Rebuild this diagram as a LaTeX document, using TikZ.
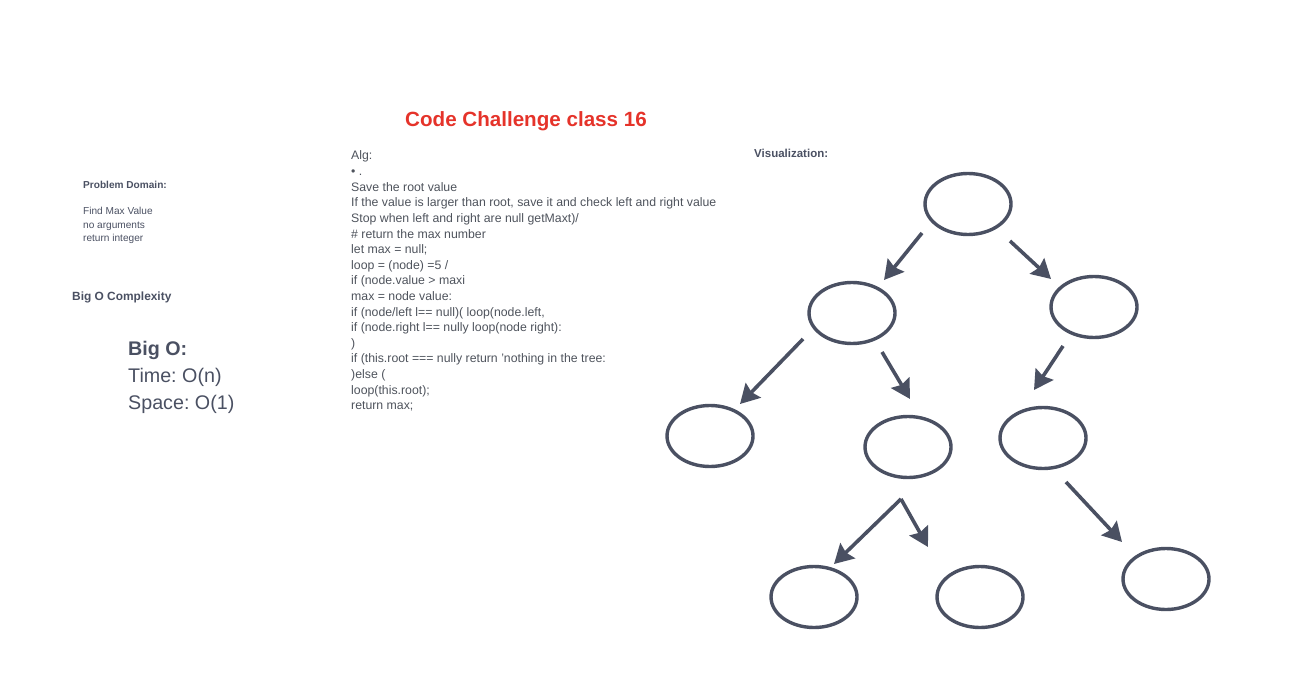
\documentclass[tikz,border=0pt]{standalone}
\usepackage{fontspec}
\setmainfont{Liberation Sans}
\usetikzlibrary{shapes.geometric,arrows.meta}
\definecolor{slate}{HTML}{4A5062}
\definecolor{codegray}{HTML}{4E535C}
\definecolor{titlered}{HTML}{E5332A}
\frenchspacing
\tikzset{
  tnode/.style={ellipse,draw=slate,line width=3.4pt,minimum width=86pt,minimum height=61pt,inner sep=0pt},
  tarrow/.style={draw=slate,line width=3.6pt,-{Stealth[length=19pt,width=21pt,inset=2.5pt]}},
  codeline/.style={anchor=base west,inner sep=0pt,text=codegray,font=\fontsize{12.3}{14}\selectfont},
  smalltxt/.style={anchor=base west,inner sep=0pt,text=slate,font=\fontsize{10.1}{12}\selectfont},
  smallbold/.style={anchor=base west,inner sep=0pt,text=slate,font=\bfseries\fontsize{10.1}{12}\selectfont},
  bigtxt/.style={anchor=base west,inner sep=0pt,text=slate,font=\fontsize{19.7}{22}\selectfont}
}
\begin{document}
\begin{tikzpicture}[x=1pt,y=-1pt]
\useasboundingbox (0,0) rectangle (1305,687);
% title
\node[anchor=base,inner sep=0pt,text=titlered,font=\bfseries\fontsize{20.6}{24}\selectfont] (title) at (526,127) {Code Challenge class 16};
% left column
\node[smallbold] (pd) at (83,188) {Problem Domain:};
\node[smalltxt] (pd1) at (83,214.5) {Find Max Value};
\node[smalltxt] (pd2) at (83,228) {no arguments};
\node[smalltxt] (pd3) at (83,241.5) {return integer};
\node[anchor=base west,inner sep=0pt,text=slate,font=\bfseries\fontsize{11.9}{14}\selectfont] (boc) at (72,300) {Big O Complexity};
\node[bigtxt,font=\bfseries\fontsize{19.7}{22}\selectfont] (bo) at (128,355) {Big O:};
\node[bigtxt] (bot) at (128,382) {Time: O(n)};
\node[bigtxt] (bos) at (128,409) {Space: O(1)};
% code
\node[codeline] (c1) at (351,160) {Alg:};
\node[codeline] (c2) at (351,175.6) {• .};
\node[codeline] (c3) at (351,191.2) {Save the root value};
\node[codeline] (c4) at (351,206.8) {If the value is larger than root, save it and check left and right value};
\node[codeline] (c5) at (351,222.4) {Stop when left and right are null getMaxt)/};
\node[codeline] (c6) at (351,238) {\# return the max number};
\node[codeline] (c7) at (351,253.6) {let max = null;};
\node[codeline] (c8) at (351,269.2) {loop = (node) =5 /};
\node[codeline] (c9) at (351,284.8) {if (node.value > maxi};
\node[codeline] (c10) at (351,300.4) {max = node value:};
\node[codeline] (c11) at (351,316) {if (node/left l== null)( loop(node.left,};
\node[codeline] (c12) at (351,331.6) {if (node.right l== nully loop(node right):};
\node[codeline] (c13) at (351,347.2) {)};
\node[codeline] (c14) at (351,362.8) {if (this.root === nully return 'nothing in the tree:};
\node[codeline] (c15) at (351,378.4) {)else (};
\node[codeline] (c16) at (351,394) {loop(this.root);};
\node[codeline] (c17) at (351,409.6) {return max;};
% visualization
\node[anchor=base west,inner sep=0pt,text=slate,font=\bfseries\fontsize{11.5}{14}\selectfont] (vis) at (754,158) {Visualization:};
\node[tnode] (n0) at (968,204) {};
\node[tnode] (n1) at (852,313) {};
\node[tnode] (n2) at (1094,307) {};
\node[tnode] (n3) at (710,436) {};
\node[tnode] (n4) at (908,447) {};
\node[tnode] (n5) at (1043,438) {};
\node[tnode] (n6) at (814,597) {};
\node[tnode] (n7) at (980,597) {};
\node[tnode] (n8) at (1166,579) {};
% arrow endpoints
\coordinate (a1s) at (922,233); \coordinate (a1e) at (884,280);
\coordinate (a2s) at (1010,241); \coordinate (a2e) at (1051,279);
\coordinate (a3s) at (803,339); \coordinate (a3e) at (740,404);
\coordinate (a4s) at (882,352); \coordinate (a4e) at (910,399);
\coordinate (a5s) at (1063,346); \coordinate (a5e) at (1034,390);
\coordinate (a6s) at (901,499); \coordinate (a6e) at (834,564);
\coordinate (a7e) at (928,547);
\coordinate (a8s) at (1066,482); \coordinate (a8e) at (1122,542);
\draw[tarrow] (a1s) -- (a1e);
\draw[tarrow] (a2s) -- (a2e);
\draw[tarrow] (a3s) -- (a3e);
\draw[tarrow] (a4s) -- (a4e);
\draw[tarrow] (a5s) -- (a5e);
\draw[tarrow] (a6s) -- (a6e);
\draw[tarrow] (a6s) -- (a7e);
\draw[tarrow] (a8s) -- (a8e);
\end{tikzpicture}
\end{document}
